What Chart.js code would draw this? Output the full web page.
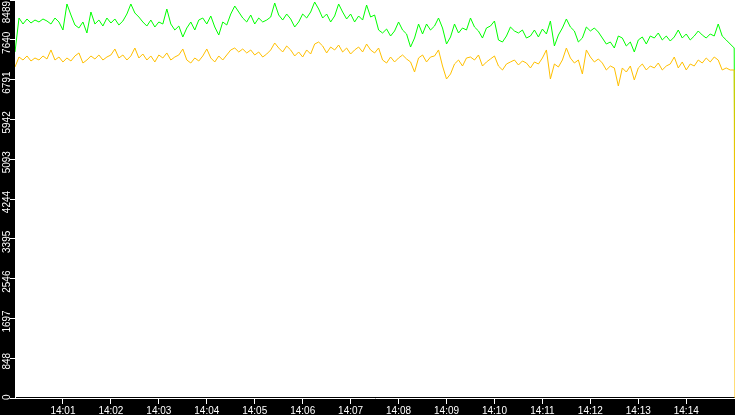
<!DOCTYPE html>
<html>
<head>
<meta charset="utf-8">
<script src="https://cdn.jsdelivr.net/npm/chart.js@4.4.1/dist/chart.umd.min.js"></script>
<style>
  html, body { margin: 0; padding: 0; background: #000; }
  canvas { display: block; }
</style>
</head>
<body>
<canvas id="rateChart" width="735" height="415"></canvas>
<script>
// 샘플 간격 5초, 14:00:00 ~ 14:15:00, 마지막 점은 끝에서 뚝 떨어지는 값
const sampleStep = 5;
const dropTime = 901;

// 초록 시리즈
const greenValues = [
  7380, 8105, 7977, 8084, 7998, 8062, 8020, 8084, 8041, 7977,
  8105, 8020, 7849, 8404, 8169, 7956, 7892, 8020, 7785, 8233,
  7977, 8062, 7934, 8105, 7998, 8084, 7956, 8041, 8190, 8404,
  8212, 8126, 8020, 7934, 8062, 7913, 8020, 7977, 8297, 7977,
  7849, 7934, 7700, 7892, 8020, 7849, 8062, 8105, 7977, 8148,
  7913, 7742, 8020, 7956, 8190, 8361, 8233, 8105, 8020, 8169,
  7977, 8105, 8020, 8062, 8126, 8425, 8169, 8062, 8190, 8084,
  7913, 8020, 8190, 8105, 8233, 8446, 8297, 8105, 8190, 8020,
  8148, 8404, 8233, 8084, 8190, 8020, 8148, 8062, 8382, 8126,
  8169, 7849, 7785, 7870, 7721, 7828, 8020, 7849, 7764, 7486,
  7678, 7977, 7764, 7977, 7849, 7934, 8105, 7892, 7550, 7700,
  7977, 7785, 7892, 7849, 8105, 7913, 7828, 7678, 7892, 7934,
  8041, 7636, 7593, 7721, 7913, 7828, 7785, 7849, 7678, 7721,
  7849, 7700, 7870, 7764, 8041, 7508, 7742, 7892, 8084, 7913,
  7828, 7593, 7678, 7913, 7828, 7892, 7806, 7678, 7550, 7593,
  7465, 7721, 7678, 7508, 7593, 7380, 7636, 7700, 7550, 7721,
  7678, 7785, 7636, 7721, 7614, 7700, 7849, 7678, 7764, 7636,
  7721, 7828, 7742, 7678, 7764, 7721, 7977, 7721, 7636, 7550,
  7465, 3520
];

// 주황 시리즈
const orangeValues = [
  7060, 7273, 7209, 7295, 7188, 7252, 7209, 7295, 7231, 7423,
  7209, 7273, 7167, 7252, 7188, 7295, 7359, 7145, 7209, 7295,
  7231, 7316, 7209, 7273, 7316, 7444, 7252, 7316, 7209, 7295,
  7465, 7252, 7337, 7209, 7295, 7167, 7316, 7252, 7359, 7209,
  7273, 7316, 7444, 7209, 7145, 7252, 7188, 7295, 7444, 7252,
  7167, 7295, 7209, 7316, 7423, 7465, 7380, 7444, 7359, 7423,
  7316, 7380, 7273, 7337, 7423, 7572, 7465, 7380, 7508, 7423,
  7295, 7380, 7273, 7423, 7337, 7550, 7593, 7508, 7359, 7486,
  7423, 7529, 7380, 7465, 7337, 7423, 7486, 7380, 7550, 7423,
  7359, 7465, 7209, 7145, 7273, 7167, 7252, 7316, 7231, 7167,
  6953, 7252, 7316, 7167, 7273, 7295, 7423, 7081, 6804, 6911,
  7124, 7209, 7081, 7252, 7273, 7209, 7316, 7081, 7167, 7231,
  7295, 7081, 6996, 7124, 7167, 7209, 7103, 7188, 7145, 7039,
  7167, 7124, 7252, 7423, 6804, 7124, 7060, 7209, 7465, 7252,
  7145, 7209, 6911, 7423, 7273, 7167, 7231, 7145, 6996, 7081,
  7039, 6655, 7039, 6953, 7081, 6783, 7039, 7124, 6996, 7081,
  7039, 7145, 6996, 7081, 7124, 7273, 7039, 7167, 6996, 7124,
  7081, 7209, 7145, 7252, 7167, 7273, 7209, 6996, 7039, 6996,
  6996, 0
];

// 축 눈금
const yTickValues = [0, 848, 1697, 2546, 3395, 4244, 5093, 5942, 6791, 7640, 8489];
const xTickValues = [60, 120, 180, 240, 300, 360, 420, 480, 540, 600, 660, 720, 780, 840];
const xTickLabels = ['14:01', '14:02', '14:03', '14:04', '14:05', '14:06', '14:07',
                     '14:08', '14:09', '14:10', '14:11', '14:12', '14:13', '14:14'];

// 마지막 값만 dropTime 에 놓음
const toPoints = (arr) => arr.map((v, i) => ({
  x: i === arr.length - 1 ? dropTime : i * sampleStep,
  y: v
}));

const labelFont = '10px "Liberation Sans", Arial, sans-serif';

// 배경: 캔버스 검정, 차트 영역 흰색
const bgPlugin = {
  id: 'bg',
  beforeDraw(chart) {
    const { ctx, chartArea: a } = chart;
    ctx.save();
    ctx.fillStyle = '#000';
    ctx.fillRect(0, 0, chart.width, chart.height);
    ctx.fillStyle = '#fff';
    ctx.fillRect(a.left, a.top, a.right - a.left, a.bottom - a.top - 1);
    ctx.restore();
  }
};

// 세로 눈금 라벨 (90도 회전)
const yLabelPlugin = {
  id: 'yLabels',
  afterDraw(chart) {
    const { ctx, scales: { y }, chartArea: a } = chart;
    ctx.save();
    ctx.font = labelFont;
    ctx.fillStyle = '#fff';
    ctx.textAlign = 'center';
    ctx.textBaseline = 'alphabetic';
    yTickValues.forEach((v) => {
      const text = String(v);
      const w = ctx.measureText(text).width;
      let c = y.getPixelForValue(v) + 3;
      c = Math.max(c, a.top + w / 2 + 1);
      c = Math.min(c, a.bottom + 2 - w / 2);
      ctx.save();
      ctx.translate(9.5, c);
      ctx.rotate(-Math.PI / 2);
      ctx.fillText(text, 0, 0);
      ctx.restore();
    });
    ctx.restore();
  }
};

const ctx = document.getElementById('rateChart').getContext('2d');

const rateChart = new Chart(ctx, {
  type: 'line',
  data: {
    datasets: [
      {
        label: 'orange',
        data: toPoints(orangeValues),
        borderColor: 'rgb(255, 192, 0)',
        borderWidth: 1,
        pointRadius: 0,
        tension: 0,
        fill: false
      },
      {
        label: 'green',
        data: toPoints(greenValues),
        borderColor: 'rgb(0, 255, 0)',
        borderWidth: 1,
        pointRadius: 0,
        tension: 0,
        fill: false
      }
    ]
  },
  options: {
    responsive: false,
    animation: false,
    devicePixelRatio: 1,
    layout: { padding: 0 },
    plugins: {
      legend: { display: false },
      tooltip: { enabled: false }
    },
    scales: {
      x: {
        type: 'linear',
        min: 0,
        max: dropTime,
        afterBuildTicks: (scale) => {
          scale.ticks = xTickValues.map((v) => ({ value: v }));
        },
        afterFit: (scale) => { scale.height = 17; },
        ticks: {
          color: '#fff',
          font: { family: '"Liberation Sans", Arial, sans-serif', size: 10 },
          padding: 1,
          maxRotation: 0,
          autoSkip: false,
          callback: (v) => xTickLabels[xTickValues.indexOf(v)]
        },
        grid: {
          drawOnChartArea: false,
          drawTicks: true,
          tickLength: 6,
          color: '#fff'
        },
        border: { color: '#fff', width: 1 }
      },
      y: {
        type: 'linear',
        min: 0,
        max: 8489,
        afterBuildTicks: (scale) => {
          scale.ticks = yTickValues.map((v) => ({ value: v }));
        },
        afterFit: (scale) => { scale.width = 15; },
        ticks: { display: false },
        grid: {
          drawOnChartArea: false,
          drawTicks: true,
          tickLength: 5,
          color: '#fff'
        },
        border: { color: '#fff', width: 1 }
      }
    }
  },
  plugins: [bgPlugin, yLabelPlugin]
});
</script>
</body>
</html>
